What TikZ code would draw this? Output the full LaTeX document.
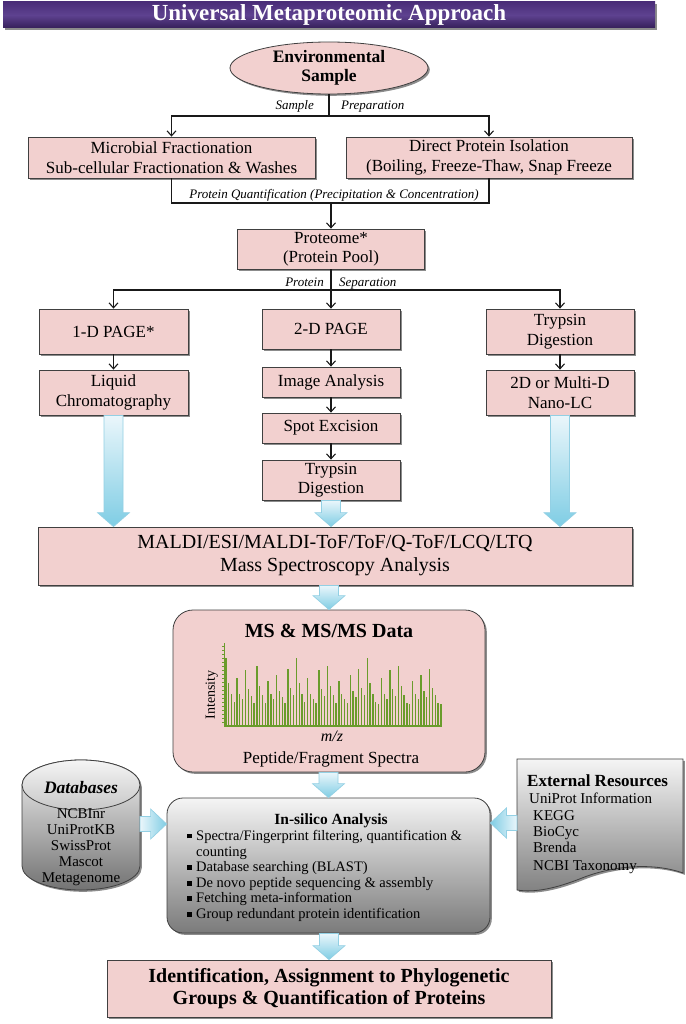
\documentclass[tikz,border=0pt]{standalone}
\usepackage{fontspec}
\setmainfont{Liberation Serif}
\usetikzlibrary{shapes.geometric,arrows.meta,shadows,calc}
\definecolor{pinkbox}{HTML}{F2D0CF}
\definecolor{bluetop}{HTML}{EAF6FB}
\definecolor{bluebot}{HTML}{7FCDE4}
\definecolor{bluedraw}{HTML}{93D0E4}
\definecolor{bantop}{HTML}{4A2D78}
\definecolor{banmid}{HTML}{5E4290}
\definecolor{banbot}{HTML}{36205A}
\definecolor{specgreen}{HTML}{6A9C2C}
\newcommand\fs[2]{\fontsize{#1}{#2}\selectfont}
\newcommand\sqb{\rule[0.12em]{0.3em}{0.3em}}
\newcommand\fatdown[2]{\shade[fat, top color=bluetop, bottom color=bluebot] let \p1=#1, \p2=#2 in (\x1-9.5pt,\y1) -- (\x1+9.5pt,\y1) -- (\x1+9.5pt,\y2+14pt) -- (\x1+16pt,\y2+14pt) -- (\x1,\y2) -- (\x1-16pt,\y2+14pt) -- (\x1-9.5pt,\y2+14pt) -- cycle;}
\newcommand\fatright[2]{\shade[fat, left color=bluetop, right color=bluebot] let \p1=#1, \p2=#2 in (\x1,\y1+7.5pt) -- (\x2-16pt,\y1+7.5pt) -- (\x2-16pt,\y1+15pt) -- (\x2,\y1) -- (\x2-16pt,\y1-15pt) -- (\x2-16pt,\y1-7.5pt) -- (\x1,\y1-7.5pt) -- cycle;}
\newcommand\fatleft[2]{\shade[fat, right color=bluetop, left color=bluebot] let \p1=#1, \p2=#2 in (\x1,\y1+7.5pt) -- (\x2+16pt,\y1+7.5pt) -- (\x2+16pt,\y1+15pt) -- (\x2,\y1) -- (\x2+16pt,\y1-15pt) -- (\x2+16pt,\y1-7.5pt) -- (\x1,\y1-7.5pt) -- cycle;}
\tikzset{
 shad/.style={drop shadow={shadow xshift=1.8pt, shadow yshift=-1.8pt, opacity=0.45, fill=black}},
 box/.style={draw=black!75, line width=0.8pt, fill=pinkbox, inner sep=0pt, align=center, font=\fs{17}{19.5}, shad},
 graybox/.style={draw=black!75, line width=0.8pt, top color=black!4, bottom color=black!52, inner sep=0pt, shad},
 conn/.style={line width=1.1pt, draw=black!90},
 arr/.style={conn, -{Straight Barb[length=5pt,width=9pt]}},
 lab/.style={inner sep=0pt, font=\fs{13}{15}\itshape},
 txt/.style={inner sep=0pt},
 fat/.style={draw=bluedraw, line width=0.7pt},
 spec/.style={draw=specgreen, line width=1.1pt},
}
\begin{document}
\begin{tikzpicture}[x=1pt,y=-1pt]
\useasboundingbox (0,0) rectangle (685,1024);
\fill[white] (0,0) rectangle (685,1024);

% title banner
\node[minimum width=652pt, minimum height=26pt, inner sep=0pt, top color=bantop, bottom color=banbot, middle color=banmid, shad, text=white, font=\fs{23}{25}\bfseries] (title) at (329,15) {Universal Metaproteomic Approach};

% environmental sample
\node[ellipse, draw=black!75, line width=0.8pt, fill=pinkbox, minimum width=198pt, minimum height=52pt, inner sep=0pt, align=center, font=\fs{17.5}{19}\bfseries, shad] (env) at (329,68) {Environmental\\Sample};

\coordinate (h1) at (0,116);
\coordinate (h2) at (0,203);
\coordinate (h3) at (0,290);

% row 1
\node[box, minimum width=287pt, minimum height=41pt] (mf) at (171.5,157.5) {Microbial Fractionation\\Sub-cellular Fractionation \& Washes};
\node[box, minimum width=286pt, minimum height=41pt] (dp) at (489,157.5) {Direct Protein Isolation\\(Boiling, Freeze-Thaw, Snap Freeze};

\draw[conn] (env.south) -- (env.south |- h1);
\draw[arr] (env.south |- h1) -| (mf.north);
\draw[arr] (env.south |- h1) -| (dp.north);
\node[lab, anchor=base east] (lsample) at (314,110) {Sample};
\node[lab, anchor=base west] (lprep) at (341,110) {Preparation};

% proteome
\node[box, minimum width=187pt, minimum height=40pt] (prot) at (331,249) {Proteome*\\(Protein Pool)};
\draw[conn] (mf.south) -- (mf.south |- h2) -- (dp.south |- h2) -- (dp.south);
\draw[arr] (prot.north |- h2) -- (prot.north);
\node[lab, anchor=base] (lpq) at (334,199) {Protein Quantification (Precipitation \& Concentration)};

% row 3
\node[box, minimum width=149pt, minimum height=45pt] (pA) at (113.5,331.5) {1-D PAGE*};
\node[box, minimum width=138pt, minimum height=40pt] (pB) at (331,329) {2-D PAGE};
\node[box, minimum width=148pt, minimum height=45pt] (tA) at (560,331.5) {Trypsin\\Digestion};
\draw[conn] (prot.south) -- (prot.south |- h3);
\draw[arr] (prot.south |- h3) -| (pA.north);
\draw[arr] (prot.south |- h3) -| (tA.north);
\draw[arr] (prot.south |- h3) -- (pB.north);
\node[lab, anchor=base east] (lprot) at (324,286.5) {Protein};
\node[lab, anchor=base west] (lsep) at (339,286.5) {Separation};

\node[box, minimum width=149pt, minimum height=45pt] (liq) at (113.5,392.5) {Liquid\\Chromatography};
\node[box, minimum width=148pt, minimum height=45pt] (nano) at (560,392.5) {2D or Multi-D\\Nano-LC};
\node[box, minimum width=138pt, minimum height=30pt] (img) at (331,382) {Image Analysis};
\node[box, minimum width=138pt, minimum height=30pt] (spot) at (331,428) {Spot Excision};
\node[box, minimum width=138pt, minimum height=40pt] (tB) at (331,480) {Trypsin\\Digestion};
\draw[arr] (pA.south) -- (liq.north);
\draw[arr] (tA.south) -- (nano.north);
\draw[arr] (pB.south) -- (img.north);
\draw[arr] (img.south) -- (spot.north);
\draw[arr] (spot.south) -- (tB.north);

% MALDI
\node[box, minimum width=594pt, minimum height=58pt, font=\fs{20}{23}] (maldi) at (335,556) {MALDI/ESI/MALDI-ToF/ToF/Q-ToF/LCQ/LTQ\\Mass Spectroscopy Analysis};
\fatdown{(liq.south)}{(maldi.north)}
\fatdown{(tB.south)}{(maldi.north)}
\fatdown{(nano.south)}{(maldi.north)}

% MS data
\node[box, rounded corners=20pt, minimum width=312pt, minimum height=162pt] (ms) at (329,691) {};
\fatdown{(ms.north |- maldi.south)}{(ms.north)}
\node[txt, anchor=base, font=\fs{20}{22}\bfseries] (mstitle) at (329,637) {MS \& MS/MS Data};
\begin{scope}[shift={(170,600)}, scale=0.3333]
 \draw[spec, line width=1.4pt] (163,378) -- (163,130);
 \foreach \ty in {140,152,...,376} \draw[draw=specgreen, line width=0.5pt] (157,\ty) -- (163,\ty);
 \draw[spec] (163,378) -- (815,378);
 \foreach \bx/\by in {168/175, 176/248, 185/282, 193/306, 201/235, 209/282, 218/296, 227/210, 235/267, 244/288, 252/310, 261/197, 269/257, 278/286, 286/308, 294/244, 303/282, 311/298, 320/224, 328/272, 337/292, 345/308, 354/208, 362/265, 371/286, 379/175, 388/248, 396/282, 404/306, 413/235, 421/282, 430/296, 438/310, 447/210, 455/267, 464/288, 473/197, 481/257, 490/286, 498/308, 507/244, 515/282, 524/298, 532/310, 541/224, 549/272, 558/292, 566/208, 575/265, 584/286, 592/175, 600/248, 609/282, 617/306, 626/312, 634/235, 643/282, 651/296, 660/210, 668/267, 677/288, 685/197, 694/257, 702/286, 711/308, 719/312, 727/244, 736/282, 745/298, 753/224, 762/272, 770/292, 779/208, 787/265, 796/286, 804/308, 813/312}
  \draw[spec] (\bx,378) -- (\bx,\by);
\end{scope}
\node[txt, rotate=90, font=\fs{14}{16}] (inten) at (211.7,695) {Intensity};
\node[txt, anchor=base, font=\fs{16}{18}\itshape] (mz) at (332,741) {m/z};
\node[txt, anchor=base, font=\fs{17}{19}] (pep) at (331,763) {Peptide/Fragment Spectra};

% in-silico
\node[graybox, rounded corners=16pt, minimum width=323pt, minimum height=135pt] (ins) at (328.5,865.5) {};
\fatdown{(ins.north |- ms.south)}{(ins.north)}
\node[txt, anchor=base, font=\fs{15.5}{17}\bfseries] (institle) at (331,824) {In-silico Analysis};
\node[txt, anchor=base west, font=\fs{14.5}{16}] (b1) at (187,840) {\sqb\hspace{0.32em}Spectra/Fingerprint filtering, quantification \&};
\node[txt, anchor=base west, font=\fs{14.5}{16}] (b1c) at (196,856.5) {counting};
\node[txt, anchor=base west, font=\fs{14.5}{16}] (b2) at (187,871.5) {\sqb\hspace{0.32em}Database searching (BLAST)};
\node[txt, anchor=base west, font=\fs{14.5}{16}] (b3) at (187,887.5) {\sqb\hspace{0.32em}De novo peptide sequencing \& assembly};
\node[txt, anchor=base west, font=\fs{14.5}{16}] (b4) at (187,902.5) {\sqb\hspace{0.32em}Fetching meta-information};
\node[txt, anchor=base west, font=\fs{14.5}{16}] (b5) at (187,918.5) {\sqb\hspace{0.32em}Group redundant protein identification};

% databases cylinder
\shade[top color=black!5, bottom color=black!55, draw=black!75, line width=0.8pt, shad] (22,785) -- (22,866) arc[start angle=180, end angle=0, x radius=59, y radius=24] -- (140,785) arc[start angle=0, end angle=-180, x radius=59, y radius=25] -- cycle;
\shade[top color=black!4, bottom color=black!22, draw=black!75, line width=0.8pt] (81,785) ellipse [x radius=59, y radius=25];
\node[txt, anchor=base, font=\fs{17.5}{19}\bfseries\itshape] (dbtitle) at (81,793) {Databases};
\node[txt, anchor=base, font=\fs{15}{16}] (db1) at (81,818) {NCBInr};
\node[txt, anchor=base, font=\fs{15}{16}] (db2) at (81,834) {UniProtKB};
\node[txt, anchor=base, font=\fs{15}{16}] (db3) at (81,850) {SwissProt};
\node[txt, anchor=base, font=\fs{15}{16}] (db4) at (81,866) {Mascot};
\node[txt, anchor=base, font=\fs{15}{16}] (db5) at (81,882) {Metagenome};
\coordinate (dbE) at (140,824);
\fatright{(dbE)}{(ins.west)}

% external resources
\shade[top color=black!4, bottom color=black!50, draw=black!75, line width=0.8pt, shad] (517,759) -- (683,759) -- (683,873) .. controls (652,862) and (612,866) .. (582,878) .. controls (557,888) and (535,893) .. (517,890) -- cycle;
\node[txt, anchor=base west, font=\fs{17}{19}\bfseries] (exttitle) at (527,786) {External Resources};
\node[txt, anchor=base west, font=\fs{15}{16}] (ex1) at (529,803) {UniProt Information};
\node[txt, anchor=base west, font=\fs{15}{16}] (ex2) at (533,820) {KEGG};
\node[txt, anchor=base west, font=\fs{15}{16}] (ex3) at (533,836) {BioCyc};
\node[txt, anchor=base west, font=\fs{15}{16}] (ex4) at (533,852) {Brenda};
\node[txt, anchor=base west, font=\fs{15}{16}] (ex5) at (533,870) {NCBI Taxonomy};
\coordinate (extW) at (517,823);
\fatleft{(extW)}{(ins.east)}

% final
\node[box, minimum width=444pt, minimum height=57pt, font=\fs{20}{21.5}\bfseries] (fin) at (329,988.5) {Identification, Assignment to Phylogenetic\\Groups \& Quantification of Proteins};
\fatdown{(fin.north |- ins.south)}{(fin.north)}
\end{tikzpicture}
\end{document}
